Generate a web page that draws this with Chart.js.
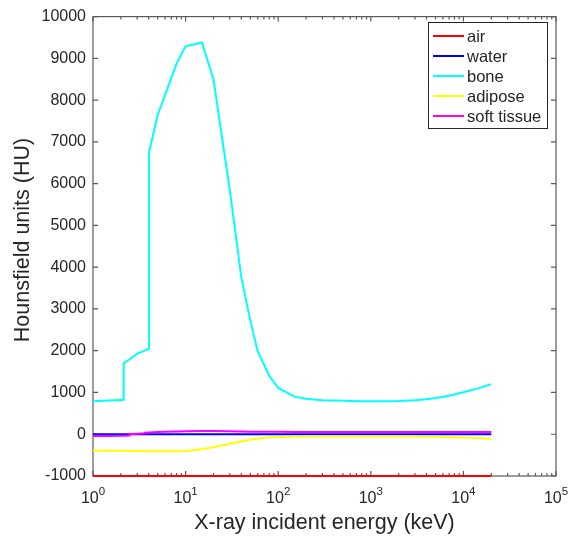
<!DOCTYPE html>
<html>
<head>
<meta charset="utf-8">
<script src="https://cdn.jsdelivr.net/npm/chart.js@4/dist/chart.umd.min.js"></script>
<style>
  html, body { margin: 0; padding: 0; background: #fff; }
  canvas { display: block; }
</style>
</head>
<body>
<canvas id="chart" width="569" height="537"></canvas>
<script>
// energies in keV (common grid from the tables)
const energyKeV = [1, 1.5, 2, 3, 4, 5, 6, 8, 10, 15, 20, 30, 40, 50, 60, 80, 100, 150, 200, 300, 400, 500, 600, 800, 1000, 1250, 1500, 2000, 3000, 4000, 5000, 6000, 8000, 10000, 15000, 20000]
const airHU = energyKeV.map(() => -1000)
const waterHU = energyKeV.map(() => 0)
const adiposeHU = [-390, -393, -397, -402, -405, -408, -410, -410, -402, -362, -310, -230, -175, -130, -100, -75, -65, -58, -56, -55, -54, -54, -54, -54, -54, -54, -55, -55, -57, -59, -62, -65, -71, -77, -93, -108]

// bone has the P and Ca absorption edges
const boneKeV = [1, 1.5, 2, 2.145, 2.145, 2.472, 3, 4, 4.038, 4.038, 5, 6, 8, 10, 15, 20, 30, 40, 50, 60, 80, 100, 150, 200, 300, 400, 500, 600, 800, 1000, 1250, 1500, 2000, 3000, 4000, 5000, 6000, 8000, 10000, 15000, 20000]
const boneHU = [790, 805, 818, 822, 1700, 1790, 1930, 2045, 2060, 6760, 7650, 8120, 8880, 9290, 9380, 8500, 5850, 3750, 2720, 1990, 1400, 1110, 900, 850, 815, 805, 800, 797, 792, 790, 790, 790, 795, 815, 840, 865, 890, 950, 1005, 1110, 1200]

const softKeV = [1, 1.5, 2, 2.472, 2.472, 3, 3.607, 3.607, 4, 5, 6, 8, 10, 15, 20, 30, 40, 50, 60, 80, 100, 150, 200, 300, 500, 1000, 2000, 5000, 10000, 20000]
const softHU = [-40, -40, -38, -32, 0, 10, 22, 38, 42, 55, 62, 68, 72, 77, 78, 72, 66, 62, 60, 58, 57, 56, 56, 56, 56, 56, 56, 56, 56, 56]

const labels = ["air", "water", "bone", "adipose", "soft tissue"]
const colors = ["#ff0000", "#0000ff", "#00ffff", "#ffff00", "#ff00ff"]

const yTicks = [-1000, 0, 1000, 2000, 3000, 4000, 5000, 6000, 7000, 8000, 9000, 10000]
const xDecades = [0, 1, 2, 3, 4, 5]

const textColor = "#262626"
const axisColor = "#5a5a5a"
const fontFamily = "'Liberation Sans', Arial, Helvetica, sans-serif"

const pts = (xs, ys) => xs.map((x, i) => ({ x: x, y: ys[i] }))
const series = [
  pts(energyKeV, airHU),
  pts(energyKeV, waterHU),
  pts(boneKeV, boneHU),
  pts(energyKeV, adiposeHU),
  pts(softKeV, softHU)
]

const matlabAxes = {
  id: "matlabAxes",
  beforeDatasetsDraw(chart) {
    const { ctx, chartArea: a, scales } = chart
    ctx.save()
    ctx.strokeStyle = axisColor
    ctx.lineWidth = 1.2
    ctx.strokeRect(a.left, a.top, a.right - a.left, a.bottom - a.top)

    ctx.beginPath()
    // y ticks, both sides, inward
    yTicks.forEach(v => {
      const y = scales.y.getPixelForValue(v)
      ctx.moveTo(a.left, y); ctx.lineTo(a.left + 5, y)
      ctx.moveTo(a.right, y); ctx.lineTo(a.right - 5, y)
    })
    // x ticks, major and minor, top and bottom
    xDecades.forEach(e => {
      const x = scales.x.getPixelForValue(Math.pow(10, e))
      ctx.moveTo(x, a.bottom); ctx.lineTo(x, a.bottom - 5)
      ctx.moveTo(x, a.top); ctx.lineTo(x, a.top + 5)
      if (e < 5) {
        for (let k = 2; k <= 9; k++) {
          const xm = scales.x.getPixelForValue(k * Math.pow(10, e))
          ctx.moveTo(xm, a.bottom); ctx.lineTo(xm, a.bottom - 3)
          ctx.moveTo(xm, a.top); ctx.lineTo(xm, a.top + 3)
        }
      }
    })
    ctx.stroke()
    ctx.restore()
  },
  afterDraw(chart) {
    const { ctx, chartArea: a, scales } = chart
    ctx.save()
    ctx.fillStyle = textColor

    // x tick labels 10^n
    xDecades.forEach(e => {
      const x = scales.x.getPixelForValue(Math.pow(10, e))
      ctx.font = "16px " + fontFamily
      const wBase = ctx.measureText("10").width
      ctx.font = "11.5px " + fontFamily
      const wExp = ctx.measureText(String(e)).width
      const start = x - (wBase + wExp) / 2
      ctx.textAlign = "left"
      ctx.textBaseline = "alphabetic"
      ctx.font = "16px " + fontFamily
      ctx.fillText("10", start, 503)
      ctx.font = "11.5px " + fontFamily
      ctx.fillText(String(e), start + wBase, 495)
    })

    // axis titles
    ctx.font = "21.5px " + fontFamily
    ctx.textAlign = "center"
    ctx.textBaseline = "alphabetic"
    ctx.fillText("X-ray incident energy (keV)", (a.left + a.right) / 2, 529)
    ctx.save()
    ctx.translate(29, 240)
    ctx.rotate(-Math.PI / 2)
    ctx.fillText("Hounsfield units (HU)", 0, 0)
    ctx.restore()

    // legend box
    const bx = 428, by = 22, bw = 119, bh = 106
    ctx.fillStyle = "#fff"
    ctx.fillRect(bx, by, bw, bh)
    ctx.strokeStyle = textColor
    ctx.lineWidth = 1
    ctx.strokeRect(bx + 0.5, by + 0.5, bw, bh)
    ctx.font = "16.5px " + fontFamily
    ctx.textAlign = "left"
    ctx.textBaseline = "middle"
    chart.data.datasets.forEach((ds, i) => {
      const y = 36 + i * 20
      ctx.strokeStyle = ds.borderColor
      ctx.lineWidth = 2
      ctx.beginPath()
      ctx.moveTo(433, y); ctx.lineTo(464, y)
      ctx.stroke()
      ctx.fillStyle = textColor
      ctx.fillText(ds.label, 467, y + 1)
    })
    ctx.restore()
  }
}

new Chart(document.getElementById("chart"), {
  type: "line",
  data: {
    datasets: labels.map((label, i) => ({
      label: label,
      data: series[i],
      borderColor: colors[i],
      backgroundColor: colors[i],
      borderWidth: 2,
      pointRadius: 0,
      tension: 0,
      fill: false,
      clip: false,
      order: labels.length - i
    }))
  },
  options: {
    responsive: false,
    animation: false,
    devicePixelRatio: 1,
    layout: { padding: { left: 0, right: 13, top: 13, bottom: 0 } },
    plugins: {
      legend: { display: false },
      tooltip: { enabled: false }
    },
    scales: {
      x: {
        type: "logarithmic",
        min: 1,
        max: 100000,
        grid: { display: false, drawTicks: false },
        border: { display: false },
        ticks: { display: false },
        afterFit(scale) { scale.height = 61 }
      },
      y: {
        min: -1000,
        max: 10000,
        grid: { display: false, drawTicks: false },
        border: { display: false },
        afterBuildTicks(scale) { scale.ticks = yTicks.map(v => ({ value: v })) },
        ticks: {
          color: textColor,
          padding: 7,
          font: { size: 16, family: fontFamily },
          callback: v => String(v)
        },
        afterFit(scale) { scale.width = 93 }
      }
    }
  },
  plugins: [matlabAxes]
})
</script>
</body>
</html>
